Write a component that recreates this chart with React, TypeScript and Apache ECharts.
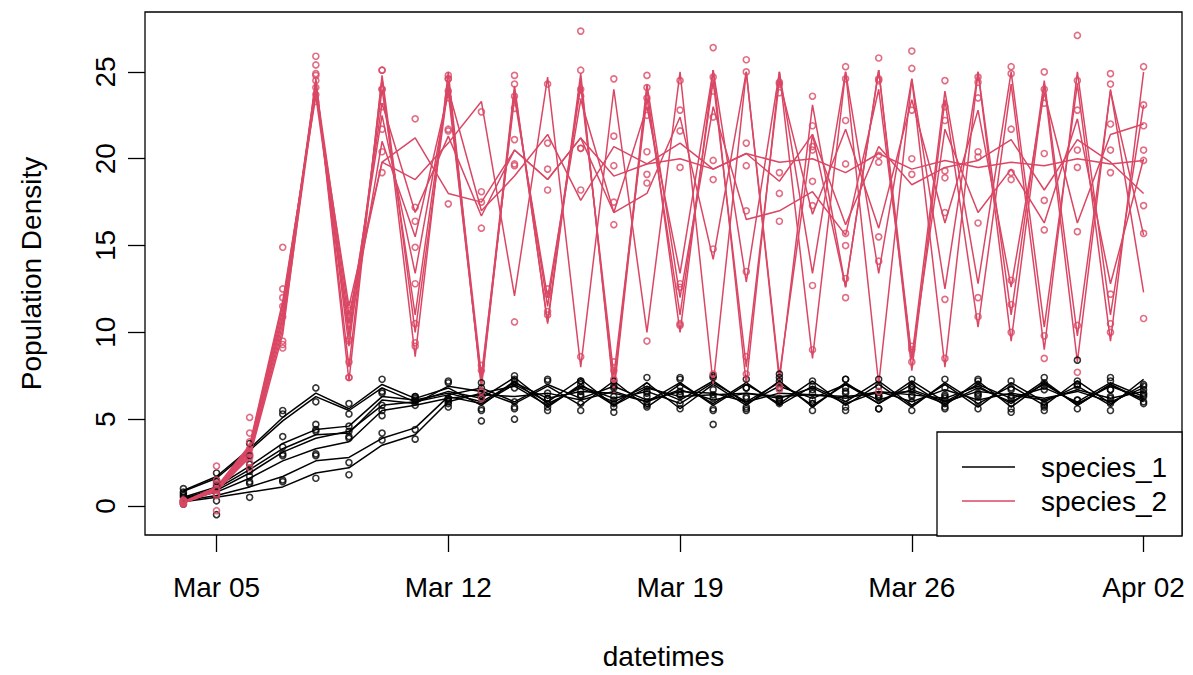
import React, { useEffect, useRef } from "react";
import * as echarts from "echarts";

// x = days since Mar 04 (0..29 = Mar 04 .. Apr 02)
const tickDays = [1, 8, 15, 22, 29];
const tickLabels = ["Mar 05", "Mar 12", "Mar 19", "Mar 26", "Apr 02"];
const yTicks = [0, 5, 10, 15, 20, 25];
const seriesNames = ["species_1", "species_2"];

const species1Lines = [
  [0.9, 1.7, 3.3, 5.1, 6.5, 5.6, 7.0, 6.2, 6.8, 5.8, 7.2, 5.7, 7.0, 5.8, 7.1, 5.6, 7.0, 5.8, 7.2, 5.7, 7.1, 5.9, 7.0, 5.8, 7.2, 5.7, 7.1, 5.8, 7.0, 6.0],
  [0.85, 1.6, 3.2, 4.9, 6.3, 5.5, 6.8, 6.0, 6.6, 6.2, 7.4, 5.9, 6.8, 6.0, 6.9, 6.1, 7.2, 5.9, 6.9, 6.2, 7.0, 6.1, 6.7, 6.0, 7.0, 6.2, 6.8, 6.0, 7.1, 6.3],
  [0.5, 1.1, 2.3, 3.6, 4.4, 4.6, 6.3, 6.1, 6.5, 6.0, 7.1, 6.2, 6.6, 6.5, 6.0, 7.1, 5.8, 7.0, 5.9, 7.2, 5.8, 7.0, 5.7, 7.1, 5.9, 6.9, 5.8, 7.2, 5.9, 7.0],
  [0.45, 1.0, 2.1, 3.3, 4.1, 4.2, 6.1, 5.9, 6.9, 6.6, 5.9, 6.9, 5.8, 7.2, 5.7, 7.0, 5.9, 7.1, 5.8, 6.9, 6.0, 7.2, 5.8, 7.0, 5.7, 7.1, 6.0, 6.9, 5.8, 7.3],
  [0.35, 0.8, 1.6, 2.6, 3.3, 3.7, 5.5, 5.8, 6.2, 6.4, 6.3, 6.5, 6.1, 6.6, 6.0, 6.7, 6.1, 6.5, 6.3, 6.4, 6.2, 6.6, 6.0, 6.7, 6.1, 6.5, 6.2, 6.6, 6.0, 6.8],
  [0.3, 0.6, 1.1, 1.7, 2.6, 2.8, 3.9, 4.5, 6.3, 5.9, 7.0, 6.0, 7.3, 5.8, 6.8, 6.3, 6.4, 6.5, 6.2, 6.8, 5.9, 6.6, 6.4, 6.2, 6.9, 5.9, 7.2, 5.8, 7.0, 6.1],
  [0.25, 0.5, 0.8, 1.1, 1.9, 2.2, 3.5, 4.1, 6.0, 6.5, 6.9, 5.8, 6.9, 6.2, 6.6, 5.9, 7.1, 6.0, 6.5, 6.4, 6.3, 6.5, 6.6, 5.9, 6.8, 6.0, 7.0, 5.9, 6.9, 6.2],
  [0.4, 0.9, 1.9, 3.1, 3.9, 4.3, 5.8, 6.0, 6.4, 6.8, 6.0, 7.0, 6.2, 6.9, 6.1, 6.6, 6.5, 6.0, 7.1, 5.8, 7.0, 5.9, 7.2, 6.0, 6.6, 6.4, 6.1, 6.7, 6.2, 6.6],
];

const species1Obs = [
  [0.8, 1.5, 3.6, 5.5, 6.8, 5.3, 7.3, 6.0, 7.1, 5.5, 7.5, 5.9, 6.6, 5.4, 7.4, 5.9, 6.7, 5.5, 7.6, 5.9, 6.8, 5.6, 7.3, 6.2, 6.9, 5.4, 7.4, 6.1, 6.7, 6.3],
  [1.0, 1.9, 2.9, 5.3, 6.0, 5.9, 6.5, 6.3, 6.2, 6.5, 7.1, 6.2, 7.2, 5.7, 6.6, 6.4, 7.5, 5.6, 7.2, 5.9, 7.3, 6.4, 6.4, 5.7, 7.3, 5.9, 7.1, 8.4, 7.4, 6.0],
  [0.3, 1.4, 2.0, 4.0, 4.7, 4.3, 6.6, 5.8, 6.2, 6.3, 6.8, 6.5, 6.3, 6.8, 5.7, 7.4, 5.5, 7.3, 6.2, 6.9, 5.5, 7.3, 6.0, 6.8, 5.6, 7.2, 5.5, 7.0, 6.2, 6.7],
  [0.6, 0.7, 2.4, 3.0, 4.4, 3.9, 5.8, 6.2, 7.2, 6.3, 5.6, 7.2, 5.5, 6.9, 6.0, 7.3, 5.6, 6.8, 6.1, 7.2, 5.7, 6.9, 5.5, 7.3, 6.0, 6.8, 5.7, 7.2, 5.5, 7.0],
  [0.2, 1.1, 1.3, 2.9, 3.0, 4.0, 5.2, 6.1, 5.9, 4.9, 6.0, 6.2, 6.4, 6.3, 6.3, 6.4, 6.4, 6.2, 6.0, 6.7, 6.5, 6.3, 6.3, 6.4, 6.4, 6.2, 5.9, 6.9, 6.3, 6.5],
  [0.5, 0.3, 1.4, 1.5, 2.9, 2.5, 4.2, 3.85, 6.0, 5.6, 7.3, 5.7, 7.0, 6.1, 6.5, 6.6, 4.7, 6.8, 5.9, 6.5, 6.2, 6.3, 6.7, 5.9, 7.2, 5.6, 6.9, 6.1, 6.7, 6.4],
  [0.1, -0.5, 0.5, 1.4, 1.6, 1.8, 3.8, 4.4, 5.7, 6.8, 5.0, 5.5, 7.2, 5.9, 6.9, 5.6, 7.4, 5.7, 6.8, 6.1, 6.6, 6.2, 6.9, 5.6, 6.5, 6.3, 6.7, 5.6, 7.2, 5.9],
  [0.7, 1.2, 1.7, 3.4, 4.3, 4.6, 5.5, 6.3, 6.1, 7.1, 5.7, 7.3, 5.9, 7.2, 5.8, 6.9, 6.2, 6.3, 7.4, 5.5, 7.3, 5.6, 6.9, 6.3, 6.3, 6.7, 5.8, 7.0, 5.9, 6.9],
];

const species2Lines = [
  [0.2, 0.95, 3.1, 10.8, 24.5, 8.0, 24.6, 8.6, 25.0, 6.8, 24.0, 10.6, 24.9, 6.5, 24.0, 10.0, 25.1, 7.0, 25.0, 8.5, 25.0, 7.0, 24.6, 8.0, 25.0, 9.5, 24.3, 8.3, 24.0, 12.3],
  [0.22, 1.0, 3.3, 11.3, 24.2, 9.2, 24.0, 11.0, 24.5, 7.5, 23.5, 12.0, 23.4, 16.9, 18.0, 22.4, 14.2, 25.0, 7.5, 21.4, 12.6, 25.1, 8.5, 23.9, 12.8, 25.0, 10.3, 24.3, 9.5, 25.0],
  [0.18, 0.85, 2.9, 10.2, 24.0, 10.5, 22.5, 13.4, 24.0, 17.0, 19.0, 21.4, 17.6, 20.7, 19.7, 20.9, 19.4, 20.3, 18.7, 21.4, 16.2, 20.7, 18.5, 19.5, 19.9, 21.1, 18.2, 21.1, 19.8, 18.0],
  [0.25, 1.05, 3.4, 11.6, 23.8, 11.5, 19.8, 21.2, 18.0, 17.5, 20.5, 18.8, 21.2, 16.9, 23.0, 13.4, 25.1, 12.9, 25.0, 13.4, 25.0, 13.4, 24.6, 12.5, 25.0, 11.0, 24.5, 9.8, 23.9, 15.6],
  [0.2, 0.9, 3.0, 10.5, 24.3, 11.0, 19.8, 18.8, 20.9, 23.3, 12.1, 24.7, 8.0, 24.0, 10.0, 25.0, 7.0, 25.0, 7.2, 23.1, 12.6, 25.1, 7.8, 23.4, 10.3, 24.3, 9.0, 25.0, 11.0, 23.1],
  [0.24, 1.1, 3.5, 11.8, 23.6, 10.0, 23.2, 16.9, 21.3, 16.7, 20.5, 18.8, 21.2, 19.0, 19.7, 20.0, 19.4, 20.3, 19.8, 20.0, 19.2, 20.3, 19.4, 19.9, 19.5, 19.8, 19.6, 20.0, 19.7, 19.9],
  [0.19, 0.88, 2.8, 9.9, 24.6, 7.2, 24.8, 10.0, 24.2, 7.0, 23.8, 11.5, 24.2, 7.5, 23.5, 11.0, 24.5, 8.0, 24.5, 16.8, 21.7, 16.0, 23.4, 16.3, 22.8, 12.6, 23.8, 16.3, 21.4, 22.0],
  [0.21, 0.98, 3.2, 11.0, 24.1, 9.8, 21.0, 15.5, 23.8, 7.2, 24.2, 10.5, 24.6, 6.8, 24.3, 12.0, 23.0, 16.5, 17.0, 18.1, 15.6, 24.0, 8.5, 21.7, 16.9, 19.4, 16.3, 22.3, 12.8, 20.0],
];

const species2Obs = [
  [0.3, 2.3, 2.8, 11.5, 25.9, 8.3, 24.0, 9.2, 24.6, 6.2, 24.8, 11.2, 27.35, 7.8, 23.5, 10.4, 26.4, 7.6, 24.3, 9.0, 25.3, 6.6, 26.2, 8.5, 24.4, 10.0, 25.0, 7.7, 24.9, 10.8],
  [0.1, 0.7, 4.2, 10.9, 24.5, 9.6, 25.1, 10.5, 23.9, 8.1, 22.9, 12.5, 24.0, 16.2, 18.6, 22.8, 14.8, 25.0, 6.9, 20.7, 13.1, 24.5, 9.0, 24.5, 12.0, 25.3, 9.8, 27.1, 10.0, 25.3],
  [0.2, 1.3, 2.5, 9.5, 23.7, 11.0, 23.0, 12.8, 23.5, 17.5, 19.6, 20.9, 18.2, 21.3, 19.1, 21.6, 19.9, 19.6, 18.0, 21.9, 15.7, 20.2, 19.1, 18.9, 20.4, 21.7, 17.6, 20.5, 20.5, 17.3],
  [0.3, 0.9, 3.7, 12.0, 24.9, 10.8, 19.2, 22.3, 17.4, 18.1, 21.1, 18.2, 20.6, 17.5, 22.5, 12.8, 24.7, 13.5, 24.4, 12.7, 24.6, 14.1, 25.2, 11.9, 24.7, 11.6, 24.0, 10.4, 24.3, 15.7],
  [0.15, -0.27, 3.3, 9.1, 24.1, 11.6, 20.4, 17.2, 21.6, 22.7, 10.6, 24.3, 8.6, 24.6, 9.5, 24.5, 7.6, 25.7, 6.7, 23.6, 12.0, 24.6, 8.3, 23.0, 10.9, 24.9, 8.5, 24.5, 10.5, 23.1],
  [0.25, 1.5, 5.1, 12.5, 23.3, 9.5, 24.0, 16.4, 21.7, 16.0, 19.7, 19.4, 20.6, 19.6, 20.4, 19.5, 18.8, 20.9, 19.2, 20.5, 19.7, 19.8, 20.0, 19.3, 20.1, 19.2, 20.3, 19.5, 19.2, 19.9],
  [0.2, 1.0, 2.2, 9.3, 25.4, 7.4, 25.1, 9.4, 24.8, 6.6, 24.3, 12.2, 23.6, 8.3, 24.8, 10.5, 23.9, 8.6, 23.8, 17.3, 22.2, 15.5, 22.8, 16.9, 23.5, 13.0, 23.2, 15.8, 22.0, 21.9],
  [0.35, 0.6, 3.0, 14.9, 24.8, 7.4, 21.7, 14.9, 24.6, 7.8, 23.6, 11.0, 25.1, 7.3, 24.1, 12.6, 22.4, 17.0, 16.4, 18.7, 15.0, 25.8, 9.2, 22.2, 16.3, 18.8, 15.9, 22.8, 12.2, 20.5],
];

const FONT = "'Liberation Sans', Arial, Helvetica, sans-serif";
const BLACK = "#000000";
const RED = "#DA4764";

function toXY(values: number[]) {
  return values.map((v, i) => [i, v]);
}

export default function App() {
  const ref = useRef<HTMLDivElement>(null);

  useEffect(() => {
    if (!ref.current) return;
    const chart = echarts.init(ref.current, undefined, { renderer: "svg" });

    const lineSeries = (lines: number[][], color: string, name: string) =>
      lines.map((vals) => ({
        name,
        type: "line",
        data: toXY(vals),
        showSymbol: false,
        symbol: "none",
        silent: true,
        lineStyle: { color, width: 1.5 },
        itemStyle: { color },
        z: 2,
      }));

    const obsSeries = (obs: number[][], color: string, name: string) => ({
      name,
      type: "scatter",
      data: obs.flatMap((vals) => toXY(vals)),
      symbol: "circle",
      symbolSize: 6,
      silent: true,
      itemStyle: { color: "rgba(0,0,0,0)", borderColor: color, borderWidth: 1.6 },
      z: 3,
    });

    const option: any = {
      animation: false,
      backgroundColor: "#ffffff",
      grid: {
        left: 145,
        top: 12,
        right: 11,
        bottom: 139,
        show: true,
        borderColor: BLACK,
        borderWidth: 1.3,
        backgroundColor: "transparent",
      },
      xAxis: {
        type: "value",
        min: -1.16,
        max: 30.16,
        axisLine: { show: false, onZero: false },
        splitLine: { show: false },
        axisTick: {
          show: true,
          inside: false,
          customValues: tickDays,
          length: 17,
          lineStyle: { color: BLACK, width: 1.3 },
        },
        axisLabel: {
          customValues: tickDays,
          formatter: (v: number) => {
            const i = tickDays.indexOf(Math.round(v));
            return i >= 0 ? tickLabels[i] : "";
          },
          fontSize: 28,
          color: BLACK,
          fontFamily: FONT,
          margin: 38,
        },
        name: "datetimes",
        nameLocation: "middle",
        nameGap: 107,
        nameTextStyle: { fontSize: 28, color: BLACK, fontFamily: FONT },
      },
      yAxis: {
        type: "value",
        min: -1.67,
        max: 28.45,
        axisLine: { show: false, onZero: false },
        splitLine: { show: false },
        axisTick: {
          show: true,
          inside: false,
          customValues: yTicks,
          length: 17,
          lineStyle: { color: BLACK, width: 1.3 },
        },
        axisLabel: {
          customValues: yTicks,
          rotate: 90,
          formatter: (v: number) => String(Math.round(v)),
          fontSize: 28,
          color: BLACK,
          fontFamily: FONT,
          margin: 26,
        },
        name: "Population Density",
        nameLocation: "middle",
        nameGap: 100,
        nameTextStyle: { fontSize: 28, color: BLACK, fontFamily: FONT },
      },
      series: [
        ...lineSeries(species1Lines, BLACK, seriesNames[0]),
        obsSeries(species1Obs, BLACK, seriesNames[0]),
        ...lineSeries(species2Lines, RED, seriesNames[1]),
        obsSeries(species2Obs, RED, seriesNames[1]),
      ],
      graphic: [
        {
          type: "rect",
          z: 100,
          shape: { x: 937, y: 432, width: 245, height: 104 },
          style: { fill: "#ffffff", stroke: BLACK, lineWidth: 1.3 },
        },
        {
          type: "line",
          z: 101,
          shape: { x1: 962, y1: 467, x2: 1015, y2: 467 },
          style: { stroke: BLACK, lineWidth: 1.4 },
        },
        {
          type: "line",
          z: 101,
          shape: { x1: 962, y1: 501, x2: 1015, y2: 501 },
          style: { stroke: RED, lineWidth: 1.4 },
        },
        {
          type: "text",
          z: 101,
          x: 1041,
          y: 467,
          style: { text: seriesNames[0], fontSize: 28, fontFamily: FONT, fill: BLACK, verticalAlign: "middle", align: "left" },
        },
        {
          type: "text",
          z: 101,
          x: 1041,
          y: 501,
          style: { text: seriesNames[1], fontSize: 28, fontFamily: FONT, fill: BLACK, verticalAlign: "middle", align: "left" },
        },
      ],
    };

    chart.setOption(option);
    return () => chart.dispose();
  }, []);

  return (
    <div
      ref={ref}
      style={{ position: "fixed", left: 0, top: 0, width: 1193, height: 675, background: "#fff" }}
    />
  );
}
